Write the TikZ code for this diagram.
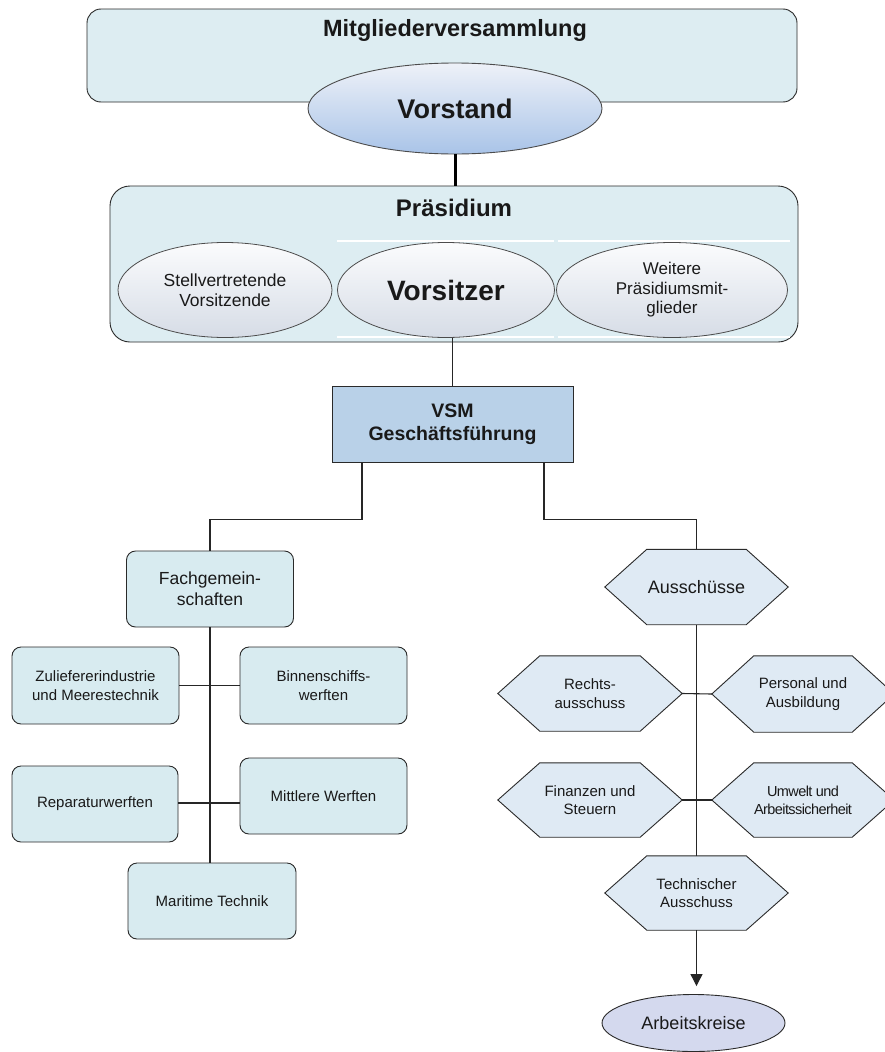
\documentclass[tikz,border=0pt]{standalone}
\usepackage{fontspec}
\setmainfont{Liberation Sans}
\usetikzlibrary{shapes.geometric,arrows.meta,backgrounds}
\definecolor{topfill}{HTML}{DDEDF2}
\definecolor{fachfill}{HTML}{D8EBF0}
\definecolor{hexfill}{HTML}{DFEAF4}
\definecolor{vsmfill}{HTML}{B9D1E8}
\definecolor{arkfill}{HTML}{D4D9EE}
\definecolor{edge}{HTML}{2A2A2A}
\definecolor{vtop}{HTML}{EEF1F8}
\definecolor{vbot}{HTML}{A9C4E8}
\definecolor{ptop}{HTML}{FBFCFD}
\definecolor{pbot}{HTML}{D6DCE6}
\begin{document}
\begin{tikzpicture}[x=1pt,y=-1pt,
  txt/.style={text=black!90},
  bigbox/.style={draw=edge, line width=0.9pt, fill=topfill, rounded corners=14pt, inner sep=0},
  pellipse/.style={ellipse, draw=black!70, line width=0.8pt, top color=ptop, bottom color=pbot, inner sep=0, align=center, txt},
  rbox/.style={draw=edge, line width=0.9pt, fill=fachfill, rounded corners=9pt, minimum width=167, minimum height=76, inner sep=0, align=center, txt, font=\fontsize{15}{18.5}\selectfont},
  hexnode/.style={inner sep=0, minimum width=183, minimum height=75, align=center, txt, font=\fontsize{15}{18.5}\selectfont},
  hexshape/.style={draw=edge, line width=0.9pt, fill=hexfill},
  conn/.style={draw=black!85, line width=1.1pt},
]
\useasboundingbox (0,0) rectangle (885,1052);
\begin{scope}[on background layer]
  \fill[white] (0,0) rectangle (885,1052);
\end{scope}

% top part
\node[bigbox, minimum width=710, minimum height=93] (mv) at (442,55.5) {};
\node[txt, font=\fontsize{23.5}{27}\selectfont\bfseries] (mvtitle) at (455,30) {Mitgliederversammlung};
\node[ellipse, draw=black!70, line width=0.9pt, top color=vtop, bottom color=vbot, minimum width=294, minimum height=91, inner sep=0, txt, font=\fontsize{27}{30}\selectfont\bfseries] (vorstand) at (455,108.5) {Vorstand};

\node[bigbox, rounded corners=20pt, minimum width=688, minimum height=156] (praes) at (454,264) {};
\node[txt, font=\fontsize{24}{27}\selectfont\bfseries] (praestitle) at (454,208) {Präsidium};
\draw[white, line width=1.5pt] (337,241) -- (554,241) (558,241) -- (790,241) (337,337) -- (554,337) (558,337) -- (790,337);
\node[pellipse, minimum width=214, minimum height=95, font=\fontsize{17.5}{20}\selectfont] (stv) at (225,290) {Stellvertretende\\Vorsitzende};
\node[pellipse, minimum width=217, minimum height=95, font=\fontsize{28}{31}\selectfont\bfseries] (vors) at (446,290) {Vorsitzer};
\node[pellipse, minimum width=231, minimum height=95, font=\fontsize{17}{19.5}\selectfont] (weit) at (672,290) {Weitere\\Präsidiumsmit-\\glieder};

\draw[black, line width=3pt] (vorstand.south) -- (vorstand.south |- praes.north);

% management
\node[draw=edge, line width=0.9pt, fill=vsmfill, minimum width=241, minimum height=76, inner sep=0, align=center, txt, font=\fontsize{19.5}{23}\selectfont\bfseries] (vsm) at (452.5,424) {VSM\\Geschäftsführung};
\draw[conn] (vsm.north) -- (vsm.north |- vors.south);

% left branch
\node[rbox, font=\fontsize{17.5}{21}\selectfont] (fach) at (210,589) {Fachgemein-\\schaften};
\node[rbox, minimum height=77] (zul) at (95.5,685.5) {Zuliefererindustrie\\und Meerestechnik};
\node[rbox, minimum height=77] (bin) at (323.5,685.5) {Binnenschiffs-\\werften};
\node[rbox, minimum width=166] (rep) at (95,804) {Reparaturwerften};
\node[rbox] (mit) at (323.5,796) {Mittlere Werften};
\node[rbox, minimum width=168] (mar) at (212,901) {Maritime Technik};

\draw[conn] ([xshift=-90.5pt]vsm.south) -- ++(0,57) -| (fach.north);
\draw[conn] (fach.south) -- (fach.south |- mar.north);
\draw[conn] (zul.east) -- (bin.west);
\draw[conn] (rep.east |- 0,803) -- (mit.west |- 0,803);

% right branch
\node[hexnode, font=\fontsize{18}{22}\selectfont] (aus) at (696.5,587) {Ausschüsse};
\node[hexnode, minimum width=184] (rechts) at (590,693.5) {Rechts-\\ausschuss};
\node[hexnode, minimum width=182, minimum height=76] (pers) at (803,694) {Personal und\\Ausbildung};
\node[hexnode, minimum width=184, minimum height=74] (fin) at (590,800) {Finanzen und\\Steuern};
\node[hexnode, minimum width=182, minimum height=74, font=\fontsize{14.5}{18}\selectfont\addfontfeature{LetterSpace=-4}] (umw) at (803,800) {Umwelt und\\Arbeitssicherheit};
\node[hexnode, minimum height=74] (tech) at (696.5,893) {Technischer\\Ausschuss};
\node[ellipse, draw=edge, line width=0.9pt, fill=arkfill, minimum width=183, minimum height=57, inner sep=0, txt, font=\fontsize{18}{22}\selectfont] (ark) at (693.5,1023) {Arbeitskreise};

\begin{scope}[on background layer]
  \foreach \n in {aus,rechts,pers,fin,umw,tech}
    \filldraw[hexshape] (\n.west) -- ([xshift=42pt]\n.north west) -- ([xshift=-42pt]\n.north east) -- (\n.east) -- ([xshift=-42pt]\n.south east) -- ([xshift=42pt]\n.south west) -- cycle;
\end{scope}

\draw[conn] ([xshift=91.5pt]vsm.south) -- ++(0,57) -| (aus.north);
\draw[conn] (aus.south) -- (tech.north);
\draw[conn] (rechts.east) -- (pers.west);
\draw[conn] (fin.east) -- (umw.west);
\draw[conn, -{Triangle[width=12pt,length=12pt]}, shorten >=8pt] (tech.south) -- (tech.south |- ark.north);
\end{tikzpicture}
\end{document}
